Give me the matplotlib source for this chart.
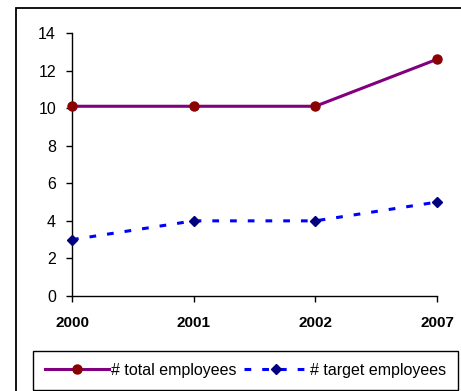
import matplotlib
matplotlib.use("Agg")
import matplotlib.pyplot as plt
from matplotlib.patches import Rectangle

years = ["2000", "2001", "2002", "2007"]
total_employees = [10.1, 10.1, 10.1, 12.6]
target_employees = [3.0, 4.0, 4.0, 5.0]

plt.rcParams["font.family"] = ["Liberation Sans", "DejaVu Sans"]

fig = plt.figure(figsize=(4.61, 3.91), dpi=100)
ax = fig.add_axes([72 / 461, 1 - 296 / 391, (437 - 72) / 461, (296 - 33) / 391])

x = list(range(len(years)))
ax.plot(x, total_employees, color="#800080", lw=2.2, marker="o", markersize=6.5,
        markerfacecolor="#8B0000", markeredgecolor="#8B0000", label="# total employees",
        clip_on=False, zorder=3)
ax.plot(x, target_employees, color="#0000FF", lw=2.2, linestyle=(0, (2.2, 3.6)),
        marker="D", markersize=5.5, markerfacecolor="#000080", markeredgecolor="#000080",
        label="# target employees", clip_on=False, zorder=3)

ax.set_xlim(0, len(years) - 1)
ax.set_ylim(0, 14)
ax.set_yticks(range(0, 15, 2))
ax.set_xticks(x)
ax.set_xticklabels(years, fontweight="bold", fontsize=11)
ax.tick_params(axis="y", labelsize=11.5, length=4.5, width=1, pad=7, direction="out")
ax.tick_params(axis="x", length=4.5, width=1, pad=10, direction="out")
for side in ["top", "right"]:
    ax.spines[side].set_visible(False)
for side in ["left", "bottom"]:
    ax.spines[side].set_linewidth(1.0)
    ax.spines[side].set_color("black")

# outer chart frame
fig.patches.append(Rectangle((15.5 / 461, -0.1), 1.0, 1 - 7.5 / 391 + 0.1,
                             transform=fig.transFigure, fill=False,
                             edgecolor="black", lw=1.3))

leg = fig.legend(loc="center", bbox_to_anchor=(33 / 461, 1 - 389 / 391, 425 / 461, 37 / 391),
                 mode="expand", ncol=2, fontsize=11.5, handlelength=4.0, handletextpad=0.15,
                 columnspacing=0.8, borderpad=0.75, borderaxespad=0, fancybox=False,
                 edgecolor="black", framealpha=1)
leg.get_frame().set_linewidth(1.0)

fig.savefig("out.png", dpi=100)
